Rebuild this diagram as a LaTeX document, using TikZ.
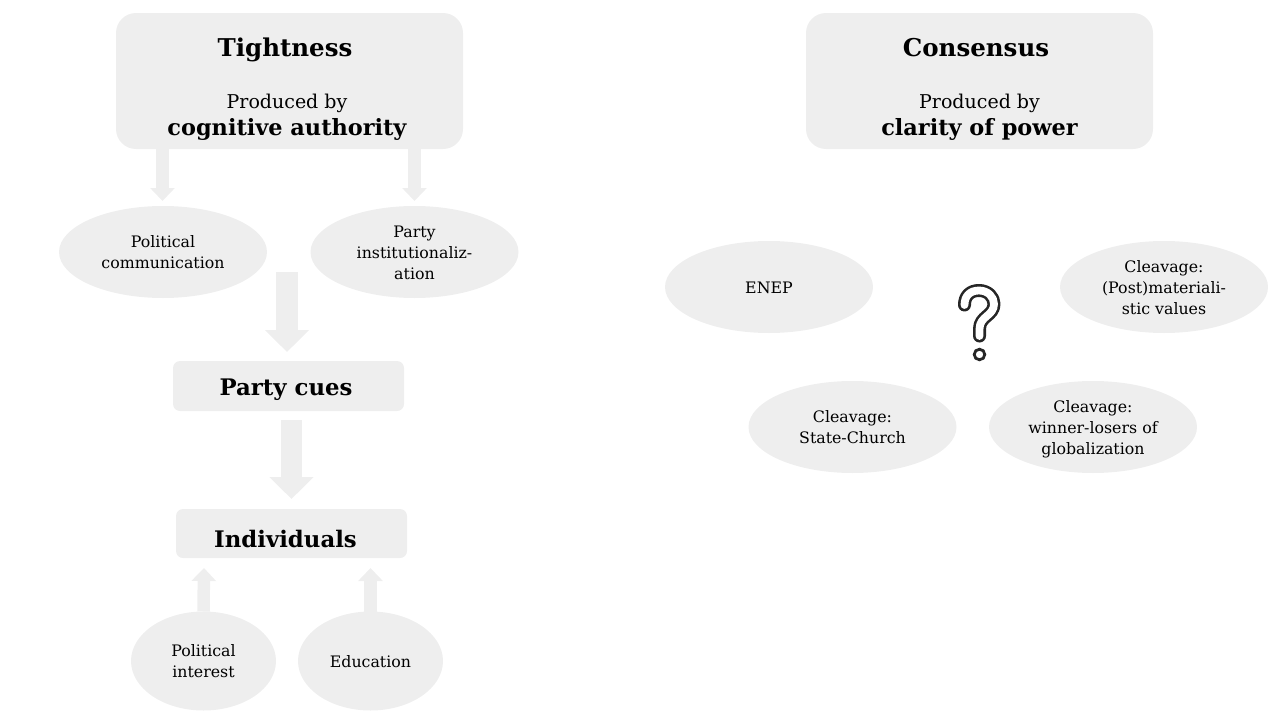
\documentclass[tikz,border=0pt]{standalone}
\usepackage{fontspec}
\setmainfont{DejaVu Serif}
\usetikzlibrary{shapes.geometric,arrows.meta}
\definecolor{paleg}{HTML}{EEEEEE}
\newcommand{\szS}{\fontsize{15.8pt}{21pt}\selectfont}
\newcommand{\szP}{\fontsize{19pt}{27pt}\selectfont}
\newcommand{\szM}{\fontsize{22.4pt}{27pt}\selectfont}
\newcommand{\szC}{\fontsize{22.8pt}{30pt}\selectfont}
\newcommand{\szL}{\fontsize{24.5pt}{30pt}\selectfont}
\newcommand{\ovt}[1]{\raisebox{-5.8pt}[0pt][0pt]{\begin{tabular}{@{}c@{}}#1\end{tabular}}}
\tikzset{
  bigbox/.style={fill=paleg,rounded corners=20pt,minimum width=347pt,minimum height=136pt,inner sep=0pt,outer sep=0pt},
  smallbox/.style={fill=paleg,rounded corners=7pt,minimum width=231pt,minimum height=50pt,inner sep=0pt,outer sep=0pt},
  oval/.style={ellipse,fill=paleg,minimum width=208pt,minimum height=92pt,inner sep=0pt,outer sep=0pt,font=\szS},
  roundoval/.style={oval,minimum width=145pt,minimum height=99pt},
  thinarrow/.style={draw=paleg,line width=12.5pt,-{Triangle[width=24pt,length=13pt,fill=paleg]}},
  fatarrow/.style={draw=paleg,line width=21.5pt,-{Triangle[width=43pt,length=22pt,fill=paleg]}},
  lbl/.style={inner sep=0pt,anchor=base},
}
\begin{document}
\begin{tikzpicture}[x=1pt,y=-1pt]
\useasboundingbox (0,0) rectangle (1280,720);
% boxes
\node[bigbox] (tight) at (289.5,81) {};
\node[bigbox] (cons) at (979.5,81) {};
\node[smallbox] (cues) at (288.5,386) {};
\node[smallbox,minimum height=49pt] (indiv) at (291.5,533.5) {};
\node[lbl,font=\szC\bfseries] (cuest) at (286,395) {Party cues};
\node[lbl,font=\szC\bfseries] (indivt) at (285.5,547) {Individuals};
% ovals
\node[oval] (pc) at (163,252) {\ovt{Political\\communication}};
\node[oval] (pi) at (414.5,252) {\ovt{Party\\institutionaliz-\\ation}};
\node[roundoval] (pint) at (203.5,661) {\ovt{Political\\interest}};
\node[roundoval] (edu) at (370.5,661) {\ovt{Education}};
\node[oval] (enep) at (769,287) {\ovt{ENEP}};
\node[oval] (post) at (1164,287) {\ovt{Cleavage:\\(Post)materiali-\\stic values}};
\node[oval] (state) at (852.5,427) {\ovt{Cleavage:\\State-Church}};
\node[oval] (win) at (1093,427) {\ovt{Cleavage:\\winner-losers of\\globalization}};
% titles
\node[lbl,font=\szL\bfseries] (t1) at (285,56.5) {Tightness};
\node[lbl,font=\szP] (t2) at (287,108) {Produced by};
\node[lbl,font=\szM\bfseries] (t3) at (287,135) {cognitive authority};
\node[lbl,font=\szL\bfseries] (c1) at (976,56.5) {Consensus};
\node[lbl,font=\szP] (c2) at (979.5,108) {Produced by};
\node[lbl,font=\szM\bfseries] (c3) at (979.5,135) {clarity of power};
% connector ends
\coordinate (e1) at (162.5,201);
\coordinate (e2) at (414.5,201);
\coordinate (s3) at (287,272);
\coordinate (e3) at (287,352);
\coordinate (s4) at (291.5,420);
\coordinate (e4) at (291.5,499);
\coordinate (e5) at (204,568);
\coordinate (e6) at (370.5,568);
% connectors
\draw[thinarrow] (tight.south -| e1) -- (e1);
\draw[thinarrow] (tight.south -| e2) -- (e2);
\draw[fatarrow] (s3) -- (e3);
\draw[fatarrow] (s4) -- (e4);
\draw[thinarrow] (pint.north) -- (e5);
\draw[thinarrow] (edu.north) -- (e6);
% question mark
\def\qpath{(964.5,305) .. controls (964.5,296) and (970,290.5) .. (979,290.5) .. controls (988,290.5) and (994,297) .. (994,304) .. controls (994,316) and (979.5,316) .. (979.5,329) -- (979.5,336)}
\draw[black!85,line width=13pt,line cap=round,line join=round] \qpath;
\draw[white,line width=7.8pt,line cap=round,line join=round] \qpath;
\draw[black!85,line width=2.8pt,fill=white] (979.5,354.5) circle (5.3pt);
\end{tikzpicture}
\end{document}
